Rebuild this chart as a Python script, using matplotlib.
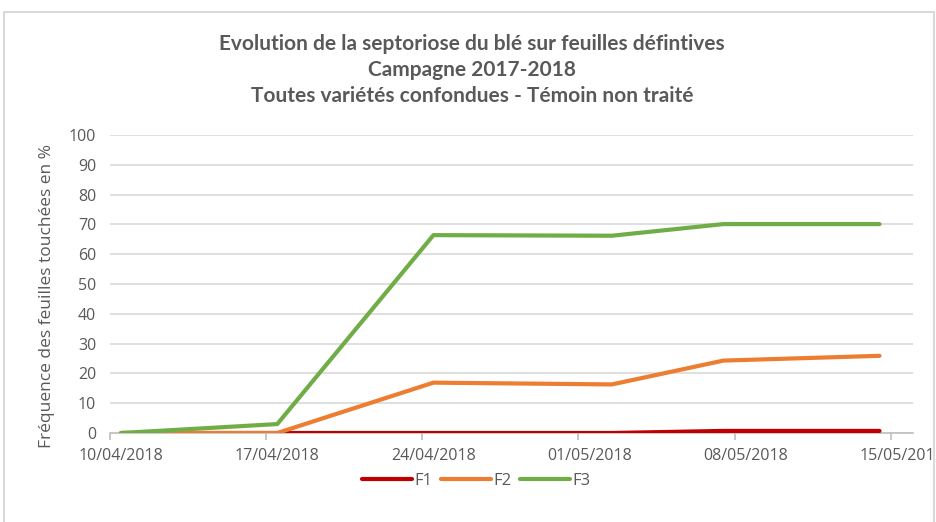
import numpy as np
import pandas as pd
import matplotlib
matplotlib.use("Agg")
import matplotlib.pyplot as plt
import matplotlib.dates as mdates
from matplotlib.patches import Rectangle
from matplotlib.transforms import Bbox, TransformedBbox

# data
dates = ["2018-04-10", "2018-04-17", "2018-04-24", "2018-05-02", "2018-05-07", "2018-05-14"]
f1 = [0, 0, 0, 0, 0.7, 0.7]
f2 = [0, 0, 16.9, 16.3, 24.3, 25.9]
f3 = [0, 3.0, 66.4, 66.2, 70.1, 70.1]
tick_dates = ["2018-04-10", "2018-04-17", "2018-04-24", "2018-05-01", "2018-05-08", "2018-05-15"]

title = ("Evolution de la septoriose du blé sur feuilles défintives\n"
         "Campagne 2017-2018\n"
         "Toutes variétés confondues - Témoin non traité")
ylabel = "Fréquence des feuilles touchées en %"

GRAY = "#595959"
plt.rcParams["font.family"] = ["Open Sans", "DejaVu Sans"]

W, H = 936, 522
fig = plt.figure(figsize=(W / 100, H / 100), dpi=100)

# chart border (the screenshot cuts it at the bottom)
fig.patches.append(Rectangle((4 / W, -0.1), 930 / W, 1 - 12 / H + 0.1,
                             transform=fig.transFigure, fill=False,
                             edgecolor="#d9d9d9", linewidth=1.5))

ax = fig.add_axes([110 / W, 1 - 433 / H, (913 - 110) / W, (433 - 135) / H])

# Excel date axis: points and labels sit in the middle of their day
half_day = pd.Timedelta(hours=12)
x = pd.to_datetime(dates) + half_day
ax.plot(x, f1, color="#c00000", lw=3, solid_capstyle="round", label="F1", zorder=3)
ax.plot(x, f2, color="#ed7d31", lw=3, solid_capstyle="round", label="F2", zorder=3)
ax.plot(x, f3, color="#70ad47", lw=3, solid_capstyle="round", label="F3", zorder=3)

ax.set_xlim(pd.Timestamp("2018-04-10"), pd.Timestamp("2018-05-16"))
ax.set_ylim(0, 100)
ax.set_yticks(np.arange(0, 101, 10))
ax.set_xticks(pd.to_datetime(tick_dates))
ax.set_xticklabels([])
ax.set_xticks(pd.to_datetime(tick_dates) + half_day, minor=True)
ax.xaxis.set_minor_formatter(mdates.DateFormatter("%d/%m/%Y"))

ax.grid(axis="y", color="#d9d9d9", lw=1.2)
ax.set_axisbelow(True)
for s in ["top", "right", "left"]:
    ax.spines[s].set_visible(False)
ax.spines["bottom"].set_color("#bfbfbf")
ax.spines["bottom"].set_linewidth(1.2)
ax.tick_params(axis="y", length=0, pad=10, labelsize=11.5, labelcolor=GRAY)
ax.tick_params(axis="x", which="major", length=5, color="#bfbfbf", width=1.2)
ax.tick_params(axis="x", which="minor", length=0, pad=11,
               labelsize=11.5, labelcolor=GRAY)

# last date label is cut by the chart border
clip = TransformedBbox(Bbox([[0, 0], [933 / W, 1]]), fig.transFigure)
for lab in ax.get_xticklabels(minor=True):
    lab.set_clip_box(clip)
    lab.set_clip_on(True)

fig.text(47 / W, 1 - 296 / H, ylabel, rotation=90, ha="center", va="center",
         fontsize=12.5, color=GRAY)
fig.text(472 / W, 1 - 70 / H, title, ha="center", va="center", fontsize=15,
         fontweight="bold", color=GRAY, linespacing=1.35, family=["Lato", "DejaVu Sans"])

fig.legend(loc="center", bbox_to_anchor=(476 / W, 1 - 481 / H), ncol=3, frameon=False,
           fontsize=12, labelcolor=GRAY, handlelength=3.0, handletextpad=0.15,
           columnspacing=0.5)

fig.savefig("out.png", dpi=100)
